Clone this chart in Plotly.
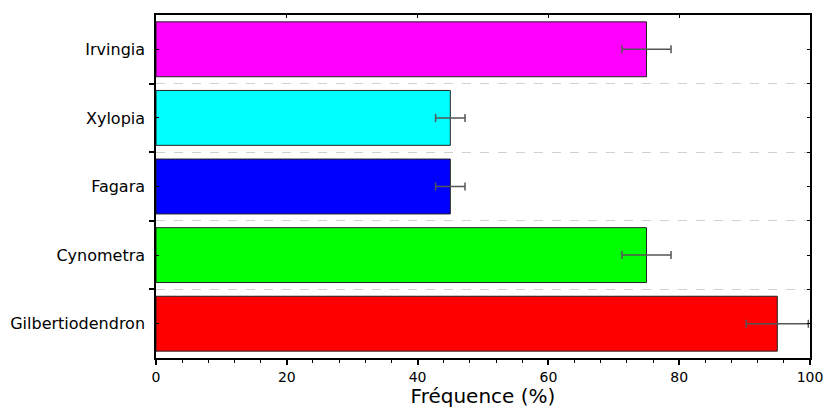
import plotly.graph_objects as go

categories = ["Gilbertiodendron", "Cynometra", "Fagara", "Xylopia", "Irvingia"]
values = [95, 75, 45, 45, 75]
errors = [4.75, 3.75, 2.25, 2.25, 3.75]
colors = ["#FF0000", "#00FF00", "#0000FF", "#00FFFF", "#FF00FF"]
x_ticks = [0, 20, 40, 60, 80, 100]

ypos = list(range(len(categories)))
bounds = [i - 0.5 for i in range(len(categories) + 1)]

fig = go.Figure()
fig.add_trace(go.Bar(
    x=values, y=ypos, orientation="h", width=0.8,
    marker=dict(color=colors, line=dict(color="#222222", width=1)),
    error_x=dict(type="data", array=errors, visible=True, color="#555555",
                 thickness=1.5, width=4),
    showlegend=False,
))
# dummy trace for secondary axes
fig.add_trace(go.Scatter(x=[None], y=[None], xaxis="x2", yaxis="y2", showlegend=False))

font = "DejaVu Sans"
fig.update_layout(
    width=825, height=408,
    margin=dict(l=156, r=15, t=15, b=50),
    paper_bgcolor="white", plot_bgcolor="white",
    font=dict(family=font, color="black"),
    bargap=0.2,
    xaxis=dict(
        range=[0, 100], tickvals=x_ticks, ticks="outside", ticklen=5, tickwidth=1.5,
        tickcolor="black", showline=True, linecolor="black", linewidth=1.5,
        showgrid=False, zeroline=False, tickfont=dict(size=14, family=font),
        automargin=False,
        minor=dict(dtick=4, ticks="outside", ticklen=3, tickcolor="black", tickwidth=1),
        title=dict(text="Fréquence (%)", font=dict(size=20, family=font), standoff=9),
    ),
    yaxis=dict(
        range=[-0.5, 4.5], tickvals=ypos, ticktext=categories, ticks="inside",
        ticklen=3, tickcolor="black", tickwidth=1, showline=True, linecolor="black",
        linewidth=1.5, showgrid=False, zeroline=False, tickfont=dict(size=16, family=font),
        ticklabelstandoff=6, automargin=False,
        minor=dict(tickvals=bounds, ticks="outside", ticklen=5, tickcolor="black",
                   tickwidth=1.5, showgrid=True, gridcolor="#d0d0d0", griddash="dash",
                   gridwidth=1),
    ),
    xaxis2=dict(
        overlaying="x", side="top", range=[0, 100], tickvals=x_ticks, ticks="inside",
        ticklen=3, tickcolor="black", showticklabels=False, showline=True,
        linecolor="black", linewidth=1.5, showgrid=False, zeroline=False, automargin=False,
    ),
    yaxis2=dict(
        overlaying="y", side="right", anchor="x", range=[-0.5, 4.5],
        tickvals=[i * 0.5 - 0.5 for i in range(11)], ticks="inside", ticklen=3,
        tickcolor="black", showticklabels=False, showline=True, linecolor="black",
        linewidth=1.5, showgrid=False, zeroline=False, automargin=False,
    ),
)

fig.write_html("out.html", config={"displayModeBar": False},
               post_script="document.body.style.margin='0';document.body.style.overflow='hidden';")
